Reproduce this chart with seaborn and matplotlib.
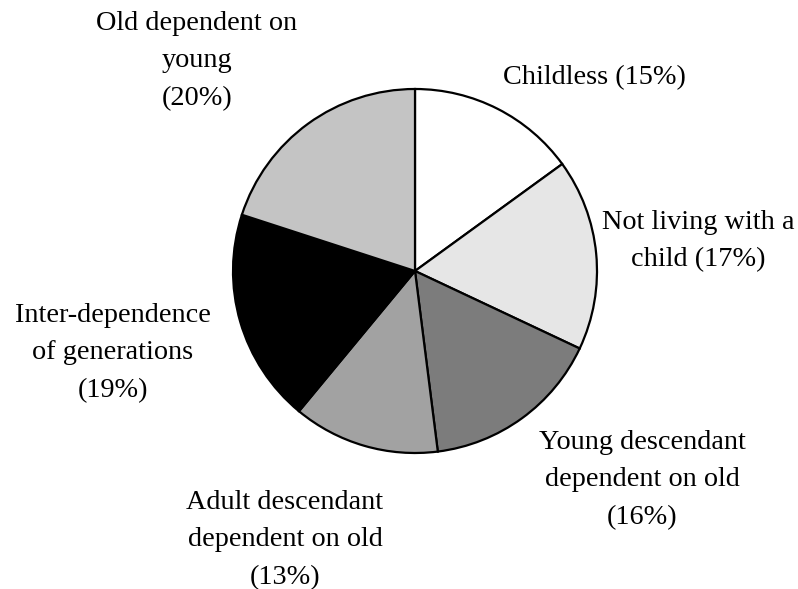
import matplotlib
matplotlib.use("Agg")
import matplotlib.pyplot as plt
import seaborn as sns

categories = ["Childless", "Not living with a child", "Young descendant dependent on old",
              "Adult descendant dependent on old", "Inter-dependence of generations",
              "Old dependent on young"]
values = [15, 17, 16, 13, 19, 20]
label_texts = ["Childless (15%)", "Not living with a\nchild (17%)",
               "Young descendant\ndependent on old\n(16%)",
               "Adult descendant\ndependent on old\n(13%)",
               "Inter-dependence\nof generations\n(19%)",
               "Old dependent on\nyoung\n(20%)"]
colors = ["#ffffff", "#e6e6e6", "#7c7c7c", "#a2a2a2", "#000000", "#c4c4c4"]

sns.set_style("white")
plt.rcParams['font.family'] = ['Liberation Serif', 'DejaVu Serif']

W, H = 798, 589
fig = plt.figure(figsize=(W / 100, H / 100), dpi=100)
ax = fig.add_axes([0, 0, 1, 1])

cx, cy, r = 415, H - 271, 182
wedges, _ = ax.pie(values, colors=colors, startangle=90, counterclock=False,
                   center=(cx, cy), radius=r,
                   wedgeprops=dict(edgecolor='black', linewidth=1.6), frame=True)
ax.set_xlim(0, W)
ax.set_ylim(0, H)
ax.set_aspect('equal')
ax.axis('off')

# label positions (pixel coords of text block centre, from top)
label_pos = [(594, 78), (698, 241), (642, 480), (285, 540), (113, 353), (197, 61)]
for txt, (x, y) in zip(label_texts, label_pos):
    ax.text(x, H - y, txt, ha='center', va='center', fontsize=20.3,
            linespacing=1.65, color='black')

fig.savefig("out.png", dpi=100)
